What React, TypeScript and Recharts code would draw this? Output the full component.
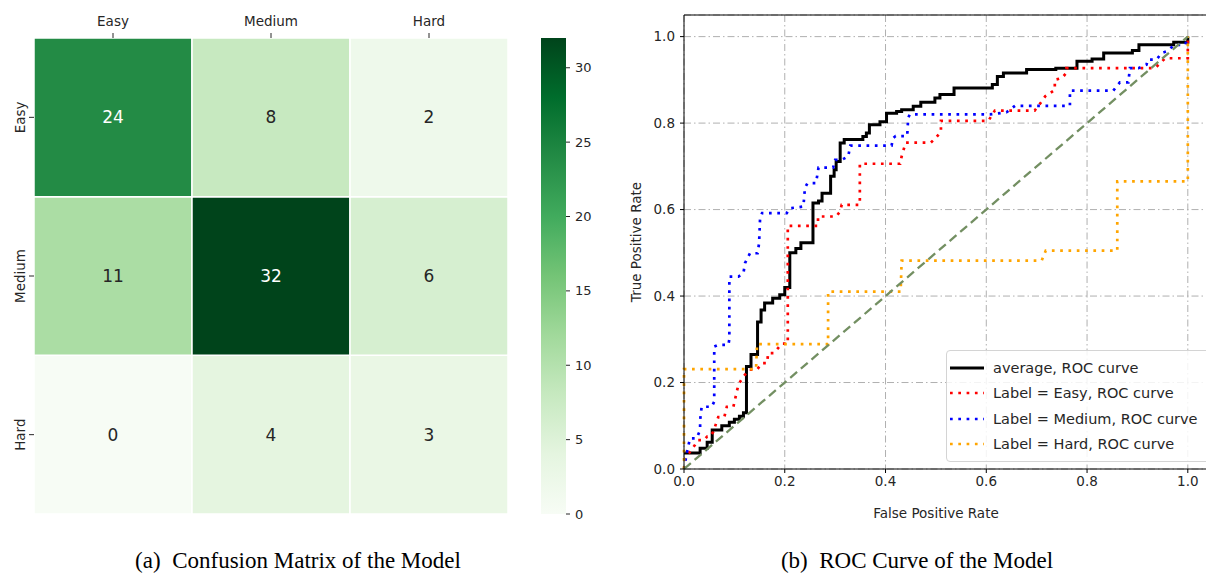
import React from "react";
import {
  BarChart,
  Bar,
  XAxis,
  YAxis,
  Cell,
  LabelList,
  LineChart,
  Line,
  CartesianGrid,
  ReferenceLine,
  Legend,
  Label,
} from "recharts";

// confusion matrix: rows = true label, columns = predicted label
const classes = ["Easy", "Medium", "Hard"];
const easyRow = [24, 8, 2];
const mediumRow = [11, 32, 6];
const hardRow = [0, 4, 3];
const colorMax = 32;
const colorbarTicks = [0, 5, 10, 15, 20, 25, 30];

// ROC curves (false positive rate / true positive rate)
const rateTicks = [0, 0.2, 0.4, 0.6, 0.8, 1.0];

const avgFpr = [0, 0.032, 0.032, 0.046, 0.046, 0.056, 0.056, 0.075, 0.075, 0.09, 0.09, 0.1, 0.1, 0.11, 0.11, 0.118, 0.118, 0.124, 0.124, 0.133, 0.133, 0.146, 0.146, 0.153, 0.153, 0.16, 0.16, 0.176, 0.176, 0.19, 0.19, 0.2, 0.2, 0.21, 0.21, 0.222, 0.222, 0.232, 0.232, 0.256, 0.256, 0.267, 0.267, 0.274, 0.274, 0.291, 0.291, 0.298, 0.298, 0.302, 0.302, 0.31, 0.31, 0.318, 0.318, 0.355, 0.355, 0.362, 0.362, 0.368, 0.368, 0.389, 0.389, 0.402, 0.402, 0.422, 0.422, 0.432, 0.432, 0.455, 0.455, 0.47, 0.47, 0.498, 0.498, 0.508, 0.508, 0.536, 0.536, 0.612, 0.612, 0.622, 0.622, 0.634, 0.634, 0.68, 0.68, 0.738, 0.738, 0.78, 0.78, 0.81, 0.81, 0.833, 0.833, 0.89, 0.89, 0.903, 0.903, 0.972, 0.972, 1, 1];
const avgTpr = [0.037, 0.037, 0.048, 0.048, 0.062, 0.062, 0.09, 0.09, 0.1, 0.1, 0.108, 0.108, 0.115, 0.115, 0.122, 0.122, 0.13, 0.13, 0.237, 0.237, 0.265, 0.265, 0.34, 0.34, 0.368, 0.368, 0.384, 0.384, 0.395, 0.395, 0.403, 0.403, 0.42, 0.42, 0.5, 0.5, 0.51, 0.51, 0.523, 0.523, 0.615, 0.615, 0.62, 0.62, 0.638, 0.638, 0.677, 0.677, 0.692, 0.692, 0.711, 0.711, 0.754, 0.754, 0.762, 0.762, 0.769, 0.769, 0.777, 0.777, 0.796, 0.796, 0.803, 0.803, 0.823, 0.823, 0.827, 0.827, 0.831, 0.831, 0.839, 0.839, 0.848, 0.848, 0.858, 0.858, 0.866, 0.866, 0.881, 0.881, 0.889, 0.889, 0.908, 0.908, 0.916, 0.916, 0.924, 0.924, 0.927, 0.927, 0.943, 0.943, 0.948, 0.948, 0.962, 0.962, 0.968, 0.968, 0.981, 0.981, 0.987, 0.987, 1];

const easyFpr = [0, 0.012, 0.022, 0.028, 0.04, 0.046, 0.052, 0.058, 0.068, 0.08, 0.085, 0.098, 0.108, 0.118, 0.13, 0.145, 0.155, 0.165, 0.167, 0.178, 0.187, 0.194, 0.206, 0.206, 0.266, 0.266, 0.302, 0.31, 0.313, 0.349, 0.349, 0.429, 0.432, 0.44, 0.49, 0.5, 0.51, 0.51, 0.604, 0.617, 0.696, 0.71, 0.717, 0.736, 0.736, 0.75, 0.759, 0.759, 0.935, 0.955, 1, 1];
const easyTpr = [0.02, 0.04, 0.056, 0.067, 0.067, 0.075, 0.075, 0.086, 0.12, 0.12, 0.144, 0.144, 0.195, 0.214, 0.23, 0.23, 0.245, 0.245, 0.268, 0.268, 0.28, 0.29, 0.29, 0.5625, 0.5625, 0.584, 0.584, 0.596, 0.611, 0.611, 0.706, 0.706, 0.723, 0.755, 0.755, 0.766, 0.78, 0.805, 0.805, 0.829, 0.829, 0.85, 0.862, 0.877, 0.9, 0.904, 0.916, 0.927, 0.927, 0.95, 0.95, 1];

const mediumFpr = [0, 0.006, 0.012, 0.025, 0.032, 0.032, 0.035, 0.055, 0.06, 0.06, 0.068, 0.088, 0.09, 0.09, 0.108, 0.118, 0.121, 0.131, 0.146, 0.149, 0.151, 0.155, 0.204, 0.21, 0.237, 0.24, 0.245, 0.262, 0.267, 0.296, 0.3, 0.313, 0.326, 0.33, 0.412, 0.415, 0.42, 0.443, 0.445, 0.448, 0.607, 0.64, 0.657, 0.766, 0.766, 0.852, 0.865, 0.882, 0.885, 0.902, 0.918, 0.921, 0.938, 0.948, 0.958, 0.974, 0.995, 1];
const mediumTpr = [0, 0.04, 0.071, 0.071, 0.09, 0.113, 0.144, 0.144, 0.156, 0.283, 0.287, 0.287, 0.3, 0.445, 0.445, 0.453, 0.476, 0.499, 0.499, 0.522, 0.58, 0.592, 0.592, 0.603, 0.607, 0.65, 0.661, 0.661, 0.697, 0.697, 0.715, 0.715, 0.723, 0.748, 0.748, 0.765, 0.77, 0.77, 0.812, 0.82, 0.82, 0.825, 0.84, 0.84, 0.875, 0.875, 0.894, 0.894, 0.927, 0.927, 0.935, 0.947, 0.947, 0.962, 0.966, 0.981, 0.981, 1];

const hardFpr = [0, 0, 0.143, 0.145, 0.286, 0.286, 0.43, 0.432, 0.71, 0.718, 0.86, 0.86, 1, 1];
const hardTpr = [0, 0.231, 0.231, 0.289, 0.289, 0.41, 0.41, 0.482, 0.482, 0.505, 0.505, 0.665, 0.665, 1];

const chanceFpr = [0, 1];
const chanceTpr = [0, 1];

const FONT = "'DejaVu Sans', sans-serif";
const SERIF = "'Liberation Serif', 'Times New Roman', serif";
const INK = "#262626";

// matplotlib "Greens"
const greensStops = ["#f7fcf5", "#e5f5e0", "#c7e9c0", "#a1d99b", "#74c476", "#41ab5d", "#238b45", "#006d2c", "#00441b"];

function greens(t: number) {
  const v = Math.max(0, Math.min(1, t)) * (greensStops.length - 1);
  const i = Math.min(Math.floor(v), greensStops.length - 2);
  const f = v - i;
  const a = parseInt(greensStops[i].slice(1), 16);
  const b = parseInt(greensStops[i + 1].slice(1), 16);
  const ch = (s: number) => Math.round(((a >> s) & 255) * (1 - f) + ((b >> s) & 255) * f);
  return `rgb(${ch(16)},${ch(8)},${ch(0)})`;
}

const matrixRows: Record<string, number[]> = { Easy: easyRow, Medium: mediumRow, Hard: hardRow };
// stacked bottom to top, each row is one unit tall
const stackOrder = ["Hard", "Medium", "Easy"];
const heatData = classes.map((c) => ({ pred: c, Hard: 1, Medium: 1, Easy: 1 }));

const toPoints = (fpr: number[], tpr: number[]) => fpr.map((x, i) => ({ x, y: tpr[i] }));

const rocSeries = [
  { name: "average, ROC curve", color: "#000000", fpr: avgFpr, tpr: avgTpr, width: 3, dash: undefined as string | undefined },
  { name: "Label = Easy, ROC curve", color: "#ff0000", fpr: easyFpr, tpr: easyTpr, width: 2.7, dash: "2.7 5.6" },
  { name: "Label = Medium, ROC curve", color: "#0000ff", fpr: mediumFpr, tpr: mediumTpr, width: 2.7, dash: "2.7 5.6" },
  { name: "Label = Hard, ROC curve", color: "#ffa500", fpr: hardFpr, tpr: hardTpr, width: 2.7, dash: "2.7 5.6" },
];

function RowTick(props: any) {
  const { x, y, payload } = props;
  const label = classes[2 - Math.floor(payload.value)];
  return (
    <text x={x - 3} y={y} transform={`rotate(-90, ${x - 3}, ${y})`} textAnchor="middle" fill={INK} fontSize={13.5}>
      {label}
    </text>
  );
}

function RocLegend() {
  return (
    <div
      style={{
        border: "1px solid #d4d4d4",
        borderRadius: 4,
        background: "rgba(255,255,255,0.85)",
        padding: "4px 0 4px 3px",
        width: 280,
        fontSize: 14.5,
        color: INK,
        fontFamily: FONT,
      }}
    >
      {rocSeries.map((s) => (
        <div key={s.name} style={{ display: "flex", alignItems: "center", height: 25.5 }}>
          <svg width={34} height={6} style={{ marginRight: 9 }}>
            <line x1={0} y1={3} x2={34} y2={3} stroke={s.color} strokeWidth={s.width} strokeDasharray={s.dash} />
          </svg>
          <span style={{ whiteSpace: "nowrap" }}>{s.name}</span>
        </div>
      ))}
    </div>
  );
}

const captionStyle: React.CSSProperties = {
  position: "absolute",
  top: 548,
  textAlign: "center",
  fontFamily: SERIF,
  fontSize: 23,
  color: "#000",
  whiteSpace: "nowrap",
};

export default function App() {
  return (
    <div
      style={{
        position: "absolute",
        left: 0,
        top: 0,
        width: 1206,
        height: 576,
        overflow: "hidden",
        background: "#fff",
        fontFamily: FONT,
      }}
    >
      {/* confusion matrix */}
      <div style={{ position: "absolute", left: 0, top: 0 }}>
        <BarChart
          width={520}
          height={520}
          data={heatData}
          margin={{ top: 0, right: 12, bottom: 6, left: 0 }}
          barCategoryGap={0}
          barGap={0}
        >
          <XAxis
            dataKey="pred"
            orientation="top"
            height={38}
            axisLine={false}
            tickLine={{ stroke: INK }}
            tickSize={5}
            tickMargin={7}
            tick={{ fill: INK, fontSize: 13.5 }}
          />
          <YAxis
            type="number"
            domain={[0, 3]}
            ticks={[0.5, 1.5, 2.5]}
            interval={0}
            width={34}
            axisLine={false}
            tickLine={{ stroke: INK }}
            tickSize={5}
            tickMargin={1}
            tick={<RowTick />}
          />
          {stackOrder.map((row) => (
            <Bar key={row} dataKey={row} stackId="cm" stroke="#ffffff" strokeWidth={1.5} isAnimationActive={false}>
              {classes.map((c, j) => (
                <Cell key={c} fill={greens(matrixRows[row][j] / colorMax)} />
              ))}
              <LabelList
                dataKey={row}
                content={(p: any) => {
                  const v = matrixRows[row][p.index];
                  return (
                    <text
                      x={Number(p.x) + Number(p.width) / 2}
                      y={Number(p.y) + Number(p.height) / 2}
                      textAnchor="middle"
                      dominantBaseline="central"
                      fontSize={17}
                      fill={v / colorMax > 0.6 ? "#ffffff" : INK}
                    >
                      {v}
                    </text>
                  );
                }}
              />
            </Bar>
          ))}
        </BarChart>
      </div>

      {/* colour bar */}
      <div style={{ position: "absolute", left: 541, top: 0 }}>
        <BarChart
          width={65}
          height={524}
          data={[{ name: "scale", value: colorMax }]}
          margin={{ top: 38, right: 0, bottom: 10, left: 0 }}
          barCategoryGap={0}
        >
          <defs>
            <linearGradient id="greensBar" x1="0" y1="1" x2="0" y2="0">
              {greensStops.map((c, i) => (
                <stop key={c} offset={`${(i / (greensStops.length - 1)) * 100}%`} stopColor={c} />
              ))}
            </linearGradient>
          </defs>
          <XAxis dataKey="name" hide />
          <YAxis
            orientation="right"
            type="number"
            domain={[0, colorMax]}
            ticks={colorbarTicks}
            interval={0}
            width={40}
            axisLine={false}
            tickLine={{ stroke: INK }}
            tickSize={4}
            tickMargin={5}
            tick={{ fill: INK, fontSize: 13 }}
          />
          <Bar dataKey="value" fill="url(#greensBar)" isAnimationActive={false} />
        </BarChart>
      </div>

      {/* ROC curves */}
      <div style={{ position: "absolute", left: 600, top: 0 }}>
        <LineChart width={620} height={529} margin={{ top: 15, right: 7, bottom: 0, left: 0 }}>
          <CartesianGrid stroke="#b0b0b0" strokeDasharray="7 3 1.5 3" />
          <XAxis
            type="number"
            dataKey="x"
            domain={[0, 1.05]}
            ticks={rateTicks}
            interval={0}
            tickFormatter={(v: number) => v.toFixed(1)}
            height={60}
            axisLine={{ stroke: "#000" }}
            tickLine={{ stroke: "#000" }}
            tickSize={4}
            tickMargin={3}
            tick={{ fill: INK, fontSize: 13.5 }}
          >
            <Label
              content={(p: any) => (
                <text
                  x={p.viewBox.x + 252}
                  y={p.viewBox.y + 44}
                  textAnchor="middle"
                  dominantBaseline="central"
                  fill={INK}
                  fontSize={13.5}
                >
                  False Positive Rate
                </text>
              )}
            />
          </XAxis>
          <YAxis
            type="number"
            domain={[0, 1.05]}
            ticks={rateTicks}
            interval={0}
            tickFormatter={(v: number) => v.toFixed(1)}
            width={84}
            axisLine={{ stroke: "#000" }}
            tickLine={{ stroke: "#000" }}
            tickSize={4}
            tickMargin={5}
            tick={{ fill: INK, fontSize: 13.5 }}
          >
            <Label
              content={(p: any) => {
                const cx = p.viewBox.x + 36;
                const cy = p.viewBox.y + p.viewBox.height / 2;
                return (
                  <text
                    x={cx}
                    y={cy}
                    transform={`rotate(-90, ${cx}, ${cy})`}
                    textAnchor="middle"
                    dominantBaseline="central"
                    fill={INK}
                    fontSize={13.5}
                  >
                    True Positive Rate
                  </text>
                );
              }}
            />
          </YAxis>
          <ReferenceLine y={1.05} stroke="#000" />
          <ReferenceLine x={1.05} stroke="#000" />
          {rocSeries.map((s) => (
            <Line
              key={s.name}
              data={toPoints(s.fpr, s.tpr)}
              dataKey="y"
              type="linear"
              stroke={s.color}
              strokeWidth={s.width}
              strokeDasharray={s.dash}
              dot={false}
              activeDot={false}
              isAnimationActive={false}
            />
          ))}
          <Line
            data={toPoints(chanceFpr, chanceTpr)}
            dataKey="y"
            type="linear"
            stroke="#738f62"
            strokeWidth={2.3}
            strokeDasharray="9 5"
            dot={false}
            activeDot={false}
            legendType="none"
            isAnimationActive={false}
          />
          <Legend
            layout="vertical"
            align="center"
            verticalAlign="middle"
            content={() => <RocLegend />}
            wrapperStyle={{ left: 346, top: 350, width: 285 }}
          />
        </LineChart>
      </div>

      {/* sub-figure captions */}
      <div style={{ ...captionStyle, left: 0, width: 596 }}>(a)&nbsp;&nbsp;Confusion Matrix of the Model</div>
      <div style={{ ...captionStyle, left: 620, width: 594 }}>(b)&nbsp;&nbsp;ROC Curve of the Model</div>
    </div>
  );
}
